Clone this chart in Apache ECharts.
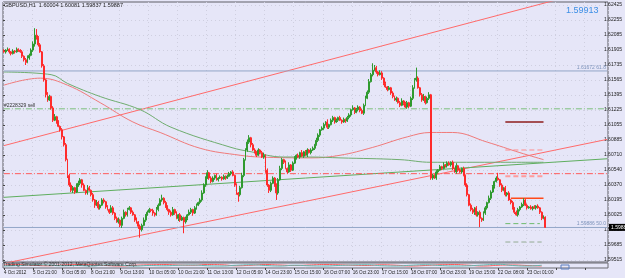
<!DOCTYPE html>
<html><head><meta charset="utf-8">
<script src="https://cdn.jsdelivr.net/npm/echarts@6/dist/echarts.min.js"></script>
<style>html,body{margin:0;padding:0;background:#e6e6f8;overflow:hidden}#c{width:625px;height:278px}</style>
</head><body><div id="c"></div>
<script>
// ---------- data ----------
const symbolTitle = "GBPUSD,H1  1.60004 1.60081 1.59837 1.59887";
const bigPrice = "1.59913";
const copyrightText = "Trading Simulator \u00a9 2001-2012, MetaQuotes Software Corp.";
const timeLabels = ["4 Oct 2012","5 Oct 21:00","8 Oct 05:00","8 Oct 21:00","9 Oct 13:00","10 Oct 05:00","10 Oct 21:00","11 Oct 13:00","12 Oct 05:00","14 Oct 23:00","15 Oct 15:00","16 Oct 07:00","16 Oct 23:00","17 Oct 15:00","18 Oct 07:00","18 Oct 23:00","19 Oct 15:00","22 Oct 08:00","23 Oct 01:00"];
const priceTickLabels = ["1.62425","1.62255","1.62085","1.61905","1.61735","1.61565","1.61395","1.61225","1.61055","1.60885","1.60710","1.60540","1.60370","1.60195","1.60025","1.59855","1.59685","1.59515"]; // top to bottom
const firstOpen = 1.6190;
const closes = [
1.6189,1.6191,1.6192,1.6189,1.6187,1.6190,1.6189,1.6192,1.6191,1.6189,1.6184,1.6180,1.6177,1.6182,1.6185,1.6191,1.6198,1.6208,1.6205,1.6197,
1.6189,1.6173,1.6157,1.6140,1.6134,1.6138,1.6125,1.6111,1.6115,1.6109,1.6104,1.6100,1.6092,1.6083,1.6066,1.6048,1.6037,1.6031,1.6034,1.6029,
1.6037,1.6039,1.6043,1.6037,1.6031,1.6028,1.6034,1.6031,1.6026,1.6020,1.6014,1.6017,1.6011,1.6014,1.6020,1.6018,1.6012,1.6009,1.6006,1.6011,
1.6005,1.5999,1.5995,1.5997,1.5991,1.5999,1.6006,1.6003,1.6009,1.6011,1.6006,1.6003,1.5997,1.5995,1.5990,1.5986,1.5991,1.5997,1.6003,1.6006,
1.6009,1.6008,1.6005,1.6003,1.6009,1.6014,1.6020,1.6022,1.6017,1.6012,1.6009,1.6006,1.6003,1.6009,1.6005,1.5999,1.6003,1.5997,1.6000,1.5995,
1.5999,1.6003,1.6006,1.6009,1.6005,1.6011,1.6014,1.6017,1.6020,1.6028,1.6037,1.6045,1.6051,1.6045,1.6041,1.6045,1.6048,1.6043,1.6045,1.6046,
1.6044,1.6047,1.6045,1.6047,1.6050,1.6052,1.6048,1.6037,1.6028,1.6026,1.6034,1.6048,1.6066,1.6077,1.6086,1.6091,1.6083,1.6077,1.6075,1.6071,
1.6077,1.6074,1.6069,1.6071,1.6054,1.6037,1.6031,1.6039,1.6045,1.6037,1.6028,1.6043,1.6056,1.6066,1.6063,1.6056,1.6052,1.6060,1.6054,1.6062,
1.6068,1.6071,1.6069,1.6074,1.6070,1.6075,1.6071,1.6077,1.6074,1.6077,1.6079,1.6083,1.6088,1.6094,1.6100,1.6102,1.6106,1.6109,1.6103,1.6106,
1.6111,1.6114,1.6109,1.6111,1.6114,1.6111,1.6109,1.6112,1.6110,1.6114,1.6117,1.6123,1.6125,1.6120,1.6123,1.6126,1.6122,1.6119,1.6128,1.6136,
1.6143,1.6155,1.6163,1.6168,1.6171,1.6166,1.6163,1.6165,1.6159,1.6153,1.6149,1.6146,1.6148,1.6142,1.6138,1.6134,1.6136,1.6131,1.6128,1.6133,
1.6130,1.6126,1.6131,1.6127,1.6136,1.6148,1.6157,1.6159,1.6148,1.6140,1.6134,1.6138,1.6131,1.6136,1.6140,1.6045,1.6048,1.6045,1.6052,1.6054,
1.6058,1.6056,1.6060,1.6059,1.6062,1.6060,1.6063,1.6056,1.6052,1.6059,1.6054,1.6052,1.6056,1.6048,1.6037,1.6026,1.6014,1.6009,1.6006,1.6011,
1.6003,1.6006,1.5999,1.5997,1.6005,1.6011,1.6017,1.6022,1.6029,1.6035,1.6041,1.6045,1.6043,1.6037,1.6031,1.6034,1.6026,1.6028,1.6020,1.6017,
1.6011,1.6006,1.6003,1.6009,1.6012,1.6015,1.6020,1.6014,1.6011,1.6012,1.6010,1.6012,1.6011,1.6013,1.6011,1.6006,1.5999,1.60004,1.59887];
// wick lengths in pips above / below the body
const wickUp = [
2,1,2,1,1,2,1,2,1,1,2,1,2,3,2,2,3,8,7,2, 2,1,2,1,3,2,1,2,3,1,2,1,2,1,2,1,2,3,2,1,
2,3,2,1,2,1,3,2,1,2,1,3,2,1,2,2,1,2,1,3, 2,1,2,3,1,2,3,1,2,2,1,2,1,3,1,2,2,3,1,2,
2,1,2,1,3,2,2,4,1,2,2,1,2,3,1,2,1,2,2,1, 2,1,3,2,1,2,2,1,2,3,2,2,3,1,2,2,1,2,1,2,
1,2,1,2,2,1,2,1,2,1,2,3,2,2,3,3,1,2,2,1, 2,1,2,3,1,2,1,2,2,1,2,2,3,2,1,2,1,3,1,2,
2,1,2,1,3,1,2,2,1,2,2,1,3,2,1,2,2,1,3,1, 2,2,1,2,1,2,1,2,1,2,2,1,3,1,2,2,1,2,2,3,
2,3,2,8,3,2,1,3,2,1,2,1,2,1,2,1,2,1,2,3, 1,2,2,1,2,3,2,12,2,1,2,3,1,2,3,1,2,1,2,1,
2,1,3,1,2,2,1,2,1,3,1,2,1,2,1,2,1,2,2,1, 2,1,2,1,2,2,1,3,2,2,1,2,6,1,2,1,2,1,2,1,
2,1,2,2,1,2,2,1,2,1,2,1,2,1,2,1,1,2,0.8];
const wickDn = [
1,2,1,2,2,1,2,1,2,1,2,2,3,1,2,1,2,3,2,2, 1,2,2,3,2,1,2,2,1,2,1,2,3,2,2,3,2,2,3,2,
1,2,2,3,1,2,2,1,2,2,3,1,2,2,1,2,2,1,2,1, 2,2,1,2,2,3,1,2,2,1,2,1,2,2,3,9,2,1,2,1,
1,2,3,2,1,2,1,2,2,1,2,3,2,1,2,1,3,2,1,13, 2,2,1,2,3,1,2,1,2,2,1,2,1,2,2,1,2,1,2,1,
2,1,2,1,1,2,1,2,2,8,2,1,2,1,2,2,3,1,2,2, 1,2,1,2,3,2,3,2,1,2,8,2,1,2,2,1,2,1,2,1,
1,2,1,2,1,2,1,2,1,2,1,2,1,2,2,1,2,1,2,2, 1,2,2,1,2,1,2,1,2,1,2,2,1,2,1,2,2,1,2,1,
1,2,1,2,1,2,2,1,2,2,1,2,1,2,2,1,2,1,2,1, 2,1,2,2,1,2,1,2,1,2,2,1,2,1,2,2,2,1,2,2,
1,2,1,2,2,1,2,2,1,2,2,1,2,1,2,2,1,2,2,3, 2,2,10,2,1,2,2,1,2,1,2,1,1,2,2,1,2,2,1,2,
2,2,1,2,2,1,2,1,2,1,1,2,1,2,1,2,2,1,0.5];
// moving averages [barIndex, price]
const redMA = [[0,1.6151],[20,1.6159],[35,1.6151],[53,1.6131],[71,1.6109],[86,1.6097],[108,1.6079],[130,1.6071],[141,1.6069],[169,1.6068],[185,1.6071],[203,1.6080],[222,1.6092],[235,1.6097],[247,1.6097],[266,1.6086],[284,1.6074],[297,1.6066]];
const greenMA = [[0,1.6166],[26,1.6163],[35,1.6153],[53,1.6138],[75,1.6123],[92,1.6103],[125,1.6080],[136,1.6075],[154,1.6069],[169,1.6069],[185,1.6068],[218,1.6066],[235,1.6063],[262,1.6063],[297,1.6063]];
// trend lines [barIndex, price]
const upperTrend = [[0,1.6082],[320,1.6257]];
const lowerTrend = [[0,1.59476],[332,1.60891]];
const greenTrend = [[0,1.6023],[332,1.6067]];
// horizontal levels
const fib618 = 1.61672, fib618Text = "1.61672 61.8";
const fib500 = 1.59886, fib500Text = "1.59886 50.0";
const sellLevel = 1.6124, sellText = "#2228329 sell";
const redLevel = 1.6050;
const bidPrice = 1.59887, bidText = "1.59887";
const darkRedSeg = [[276,1.6109],[297,1.6109]];
const pinkSegA = [[276,1.6077],[297,1.6077]];
const pinkSegB = [[276,1.6047],[297,1.6047]];
const orangeSeg = [[279,1.6022],[297,1.6022]];
const greenSeg = [[276,1.5993],[295,1.5993]];
const greySeg = [[276,1.5972],[296,1.5972]];
// oscillator sub-window [barIndex, value]
const oscRed = [[0,60],[8,70],[16,55],[24,45],[32,60],[40,70],[48,65],[56,50],[64,40],[72,55],[80,65],[88,70],[96,60],[104,55],[112,70],[120,65],[128,45],[136,55],[144,70],[152,60],[160,50],[168,60],[176,70],[184,65],[192,55],[200,50],[208,65],[216,55],[224,40],[232,50],[240,65],[248,70],[256,55],[264,40],[272,55],[280,60],[288,50],[296,40]];
const oscTeal = [[0,40],[8,50],[16,65],[24,60],[32,45],[40,50],[48,40],[56,60],[64,55],[72,40],[80,50],[88,45],[96,55],[104,60],[112,45],[120,40],[128,55],[136,65],[144,50],[152,40],[160,55],[168,45],[176,40],[184,50],[192,60],[200,65],[208,45],[216,40],[224,55],[232,65],[240,50],[248,40],[256,45],[264,60],[272,75],[280,50],[288,40],[296,55]];

// ---------- build ----------
const N_SLOTS = 333;
const cats = [];
for (let i = 0; i < N_SLOTS; i++) cats.push(i % 16 === 0 && timeLabels[i / 16] ? timeLabels[i / 16] : '');
const pip = 0.0001;
const candles = closes.map((c, i) => {
  const o = i === 0 ? firstOpen : closes[i - 1];
  const hi = Math.max(o, c) + (wickUp[i] == null ? 1 : wickUp[i]) * pip;
  const lo = Math.min(o, c) - (wickDn[i] == null ? 1 : wickDn[i]) * pip;
  return [o, c, lo, hi];
});
const L = 3, R = 17;
const dashDot = [6, 2, 1, 2];
function seg(data, color, width, type, z) {
  return { type: 'line', xAxisIndex: 0, yAxisIndex: 0, data: data, symbol: 'none', silent: true, z: z || 3,
    lineStyle: { color: color, width: width, type: type || 'solid' } };
}
function level(value, color, type) {
  return seg([[0, value], [N_SLOTS - 1, value]], color, 1, type);
}
const chart = echarts.init(document.getElementById('c'), null, { renderer: 'canvas' });
chart.setOption({
  animation: false,
  backgroundColor: '#e6e6f8',
  textStyle: { fontFamily: 'Liberation Sans, Arial, sans-serif' },
  grid: [
    { left: L, right: R, top: 2, height: 260, show: true, borderColor: '#5f5f66', borderWidth: 1, backgroundColor: 'transparent' },
    { left: L, right: R, top: 5, height: 255, show: false },
    { left: L, right: R, top: 263, height: 5, show: true, borderColor: '#6a6a70', borderWidth: 1 }
  ],
  xAxis: [
    { type: 'category', gridIndex: 0, data: cats, boundaryGap: true, axisLine: { show: false }, axisTick: { show: false }, axisLabel: { show: false },
      splitLine: { show: true, interval: (i) => i % 16 === 0, lineStyle: { color: '#cfcfe0', type: [1, 3] } } },
    { type: 'value', gridIndex: 1, show: false },
    { type: 'category', gridIndex: 2, data: cats, boundaryGap: true, axisLine: { show: false },
      axisTick: { show: true, interval: (i) => i % 16 === 0, alignWithLabel: true, length: 2, lineStyle: { color: '#444' } },
      axisLabel: { show: true, interval: 0, align: 'left', fontSize: 4.6, color: '#222', margin: 2 } }
  ],
  yAxis: [
    { type: 'value', gridIndex: 0, min: 1.59492, max: 1.62459, show: false },
    { type: 'category', gridIndex: 1, position: 'right', data: priceTickLabels.slice().reverse(), boundaryGap: false,
      axisLine: { show: false }, axisTick: { show: true, length: 2, lineStyle: { color: '#444' } },
      axisLabel: { interval: 0, fontSize: 5, color: '#222', margin: 2 },
      splitLine: { show: true, lineStyle: { color: '#cfcfe0', type: [1, 3] } } },
    { type: 'value', gridIndex: 2, min: 0, max: 100, show: false }
  ],
  series: [
    seg(upperTrend, '#ff6a6a', 1),
    seg(lowerTrend, '#ff6a6a', 1),
    seg(greenTrend, '#5fae5f', 1),
    Object.assign(seg(redMA, '#f07a7a', 1), { smooth: 0.4 }),
    Object.assign(seg(greenMA, '#6fad6f', 1), { smooth: 0.4 }),
    level(fib618, '#93a6c8', 'solid'),
    level(fib500, '#93a6c8', 'solid'),
    level(sellLevel, '#7dbf7d', dashDot),
    level(redLevel, '#ff5a5a', dashDot),
    seg(darkRedSeg, '#8e1c1c', 1.5),
    seg(pinkSegA, '#ff8a8a', 1, [5, 3]),
    seg(pinkSegB, '#ff9c9c', 2, [5, 3]),
    seg(orangeSeg, '#ff4a1a', 1.5),
    seg(greenSeg, '#6dbb6d', 1, [5, 3]),
    seg(greySeg, '#94ab94', 1, [5, 3]),
    {
      type: 'candlestick', xAxisIndex: 0, yAxisIndex: 0, data: candles, barWidth: 1.4, z: 4,
      itemStyle: { color: '#2f9a2f', color0: '#ff2b2b', borderColor: '#2f9a2f', borderColor0: '#ff2b2b', borderWidth: 1 }
    },
    { type: 'line', xAxisIndex: 2, yAxisIndex: 2, data: oscRed, symbol: 'none', smooth: 0.5, lineStyle: { color: '#ff5a5a', width: 1 } },
    { type: 'line', xAxisIndex: 2, yAxisIndex: 2, data: oscTeal, symbol: 'none', smooth: 0.5, lineStyle: { color: '#5fb8b0', width: 1 } }
  ]
});
// text labels positioned through the chart's own scale
const yOf = (v) => chart.convertToPixel({ gridIndex: 0 }, [0, v])[1];
const plotRight = 625 - R;
chart.setOption({
  graphic: [
    { type: 'text', left: 4, top: 2, z: 10, style: { text: symbolTitle, fontSize: 5.5, fill: '#222', fontFamily: 'Liberation Sans' } },
    { type: 'text', left: 566, top: 6, z: 10, style: { text: bigPrice, fontSize: 9, fill: '#3d8fe6', fontFamily: 'Liberation Sans' } },
    { type: 'text', left: 3, top: 262, z: 10, style: { text: copyrightText, fontSize: 5, fill: '#333', fontFamily: 'Liberation Sans' } },
    { type: 'text', z: 10, x: plotRight - 2, y: yOf(fib618) - 1, style: { text: fib618Text, fontSize: 5, fill: '#7d93bb', align: 'right', verticalAlign: 'bottom', fontFamily: 'Liberation Sans' } },
    { type: 'text', z: 10, x: plotRight - 2, y: yOf(fib500) - 1, style: { text: fib500Text, fontSize: 5, fill: '#7d93bb', align: 'right', verticalAlign: 'bottom', fontFamily: 'Liberation Sans' } },
    { type: 'text', z: 10, x: 4, y: yOf(sellLevel) - 1, style: { text: sellText, fontSize: 5, fill: '#333', align: 'left', verticalAlign: 'bottom', fontFamily: 'Liberation Sans' } },
    { type: 'text', z: 12, x: plotRight + 1, y: yOf(bidPrice), style: { text: bidText, fontSize: 5, fill: '#fff', backgroundColor: '#000', padding: [1, 3, 1, 2], align: 'left', verticalAlign: 'middle', fontFamily: 'Liberation Sans' } },
    { type: 'rect', shape: { x: 561, y: 265, width: 8, height: 4 }, z: 10, style: { fill: 'none', stroke: '#5a7fc0', lineWidth: 1 } }
  ]
});
</script></body></html>
